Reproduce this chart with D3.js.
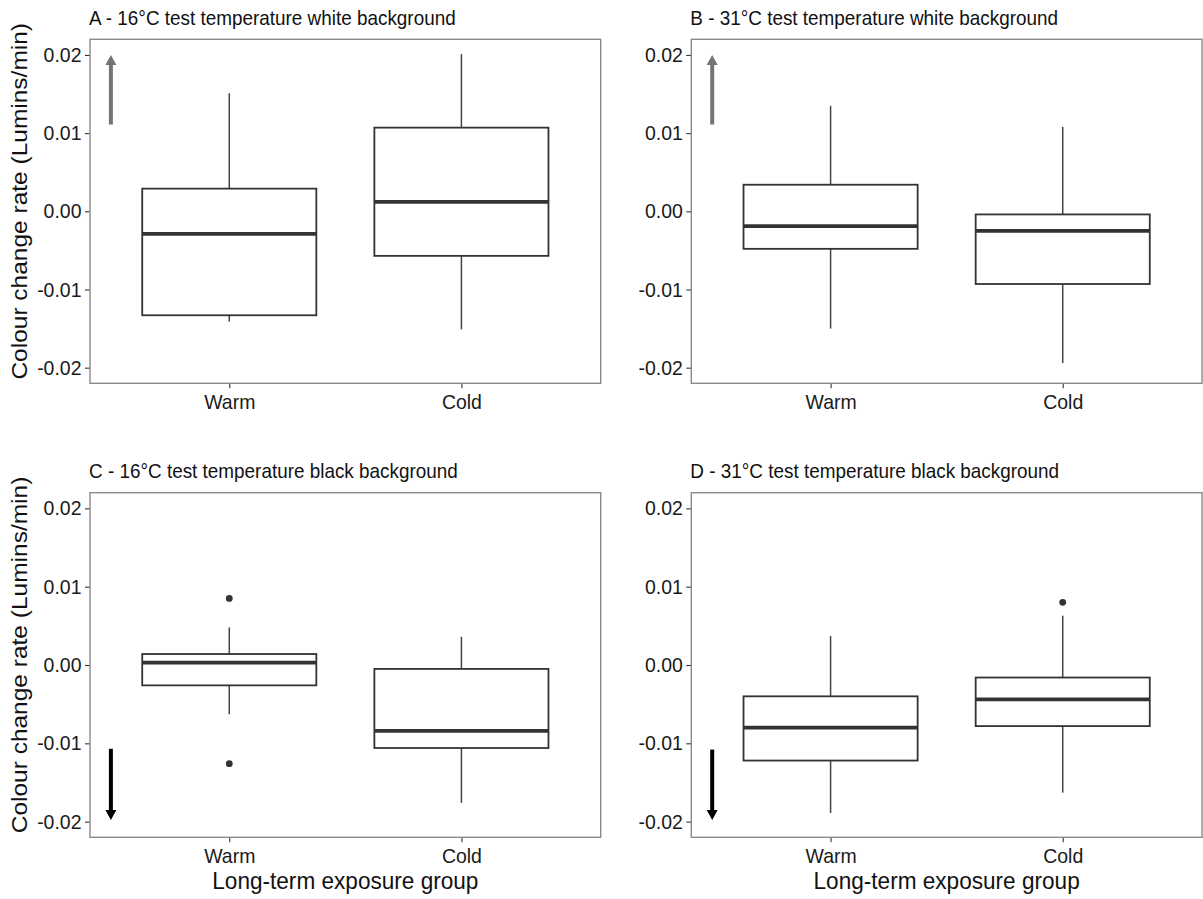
<!DOCTYPE html>
<html>
<head>
<meta charset="utf-8">
<script src="https://cdn.jsdelivr.net/npm/d3@7"></script>
<style>
  body { margin: 0; background: #fff; }
  svg { display: block; font-family: "Liberation Sans", Arial, sans-serif; }
</style>
</head>
<body>
<div id="chart"></div>
<script>
// values
var groups = ["Warm", "Cold"];
var panelTitles = [
  "A - 16°C test temperature white background",
  "B - 31°C test temperature white background",
  "C - 16°C test temperature black background",
  "D - 31°C test temperature black background"
];
var lowerWhisker = [[-0.0141, -0.0151], [-0.0150, -0.0194], [-0.0063, -0.0176], [-0.0189, -0.0163]];
var lowerHinge   = [[-0.0133, -0.0057], [-0.0048, -0.0093], [-0.0026, -0.0106], [-0.0122, -0.0078]];
var medians      = [[-0.0029,  0.0012], [-0.0019, -0.0025], [ 0.0003, -0.0084], [-0.0080, -0.0044]];
var upperHinge   = [[ 0.0029,  0.0107], [ 0.0034, -0.0004], [ 0.0014, -0.0005], [-0.0040, -0.0016]];
var upperWhisker = [[ 0.0151,  0.0201], [ 0.0135,  0.0108], [ 0.0048,  0.0036], [ 0.0037,  0.0063]];
var outliers     = [[[], []], [[], []], [[0.0085, -0.0126], []], [[], [0.0080]]];
var arrowFrom = [0.0111, 0.0111, -0.0107, -0.0108];
var arrowTo   = [0.0200, 0.0200, -0.0198, -0.0198];
var yTicks = [-0.02, -0.01, 0, 0.01, 0.02];
var yTickLabels = ["-0.02", "-0.01", "0.00", "0.01", "0.02"];

var width = 1203, height = 899;
var cols = [{left: 90, right: 600.7}, {left: 691.3, right: 1202}];
var rows = [{top: 39.3, bottom: 383.3}, {top: 492.7, bottom: 837.3}];
var arrowColours = ["#787274", "#787274", "#000000", "#000000"];
var arrowX = 0.49;

var svg = d3.select("#chart").append("svg")
    .attr("width", width)
    .attr("height", height);

// the figure was squeezed sideways, so its text is a bit condensed
function squeeze(sx) {
  return function(sel) {
    sel.each(function() {
      var t = d3.select(this);
      var tx = +t.attr("x") || 0;
      var old = t.attr("transform") || "";
      t.attr("transform", old + " translate(" + tx + ",0) scale(" + sx + ",1) translate(" + (-tx) + ",0)");
    });
  };
}

for (var p = 0; p < 4; p++) {
  var c = cols[p % 2], r = rows[Math.floor(p / 2)];
  var x = d3.scaleLinear().domain([0.4, 2.6]).range([c.left, c.right]);
  var y = d3.scaleLinear().domain([-0.022, 0.022]).range([r.bottom, r.top]);
  var g = svg.append("g");

  g.append("text")
    .attr("x", c.left - 1)
    .attr("y", r.top - 14.3)
    .style("font-size", "21px")
    .style("fill", "#111")
    .text(panelTitles[p])
    .call(squeeze(0.9));

  var yAxis = g.append("g")
    .attr("transform", "translate(" + c.left + ",0)")
    .call(d3.axisLeft(y).tickValues(yTicks).tickSize(5).tickPadding(3.5)
      .tickFormat(function(d, i) { return yTickLabels[i]; }));
  var xAxis = g.append("g")
    .attr("transform", "translate(0," + r.bottom + ")")
    .call(d3.axisBottom(x).tickValues([1, 2]).tickSize(5).tickPadding(6)
      .tickFormat(function(d, i) { return groups[i]; }));
  [yAxis, xAxis].forEach(function(a) {
    a.select(".domain").remove();
    a.selectAll("line").attr("stroke", "#333").attr("stroke-width", 1.1);
    a.selectAll("text").style("font-size", "20.5px").style("fill", "#1a1a1a")
      .style("font-family", "'Liberation Sans', Arial, sans-serif");
  });
  yAxis.selectAll("text").call(squeeze(0.95));
  xAxis.selectAll("text").call(squeeze(0.95));

  // boxes
  for (var k = 0; k < groups.length; k++) {
    var cx = x(k + 1), hw = (x(1.375) - x(1));
    g.append("line")
      .attr("x1", cx).attr("x2", cx)
      .attr("y1", y(upperHinge[p][k])).attr("y2", y(upperWhisker[p][k]))
      .attr("stroke", "#444").attr("stroke-width", 1.5);
    g.append("line")
      .attr("x1", cx).attr("x2", cx)
      .attr("y1", y(lowerHinge[p][k])).attr("y2", y(lowerWhisker[p][k]))
      .attr("stroke", "#444").attr("stroke-width", 1.5);
    g.append("rect")
      .attr("x", cx - hw).attr("width", hw * 2)
      .attr("y", y(upperHinge[p][k]))
      .attr("height", y(lowerHinge[p][k]) - y(upperHinge[p][k]))
      .attr("fill", "#fff").attr("stroke", "#333").attr("stroke-width", 1.8);
    g.append("line")
      .attr("x1", cx - hw).attr("x2", cx + hw)
      .attr("y1", y(medians[p][k])).attr("y2", y(medians[p][k]))
      .attr("stroke", "#333").attr("stroke-width", 3.8);
    g.selectAll(null).data(outliers[p][k]).enter().append("circle")
      .attr("cx", cx).attr("cy", function(d) { return y(d); })
      .attr("r", 3.4).attr("fill", "#333");
  }

  // arrow
  var ax = x(arrowX), ay0 = y(arrowFrom[p]), ay1 = y(arrowTo[p]);
  var dir = ay1 < ay0 ? 1 : -1;
  g.append("line")
    .attr("x1", ax).attr("x2", ax)
    .attr("y1", ay0).attr("y2", ay1 + dir * 8)
    .attr("stroke", arrowColours[p]).attr("stroke-width", 4);
  g.append("path")
    .attr("d", "M" + (ax - 5.5) + "," + (ay1 + dir * 10) + "L" + ax + "," + ay1 + "L" + (ax + 5.5) + "," + (ay1 + dir * 10) + "Z")
    .attr("fill", arrowColours[p]);

  // panel border
  g.append("rect")
    .attr("x", c.left).attr("y", r.top)
    .attr("width", c.right - c.left).attr("height", r.bottom - r.top)
    .attr("fill", "none").attr("stroke", "#8a8a8a").attr("stroke-width", 1.4);

  if (p % 2 == 0) {
    var my = (r.top + r.bottom) / 2 - 10;
    svg.append("text")
      .attr("transform", "translate(27," + my + ") rotate(-90) scale(1,0.9)")
      .attr("text-anchor", "middle")
      .style("font-size", "24.5px")
      .style("fill", "#111")
      .text("Colour change rate (Lumins/min)");
  }
  if (p >= 2) {
    svg.append("text")
      .attr("x", (c.left + c.right) / 2)
      .attr("y", 889)
      .attr("text-anchor", "middle")
      .style("font-size", "23.3px")
      .style("fill", "#111")
      .text("Long-term exposure group")
      .call(squeeze(0.97));
  }
}
</script>
</body>
</html>
